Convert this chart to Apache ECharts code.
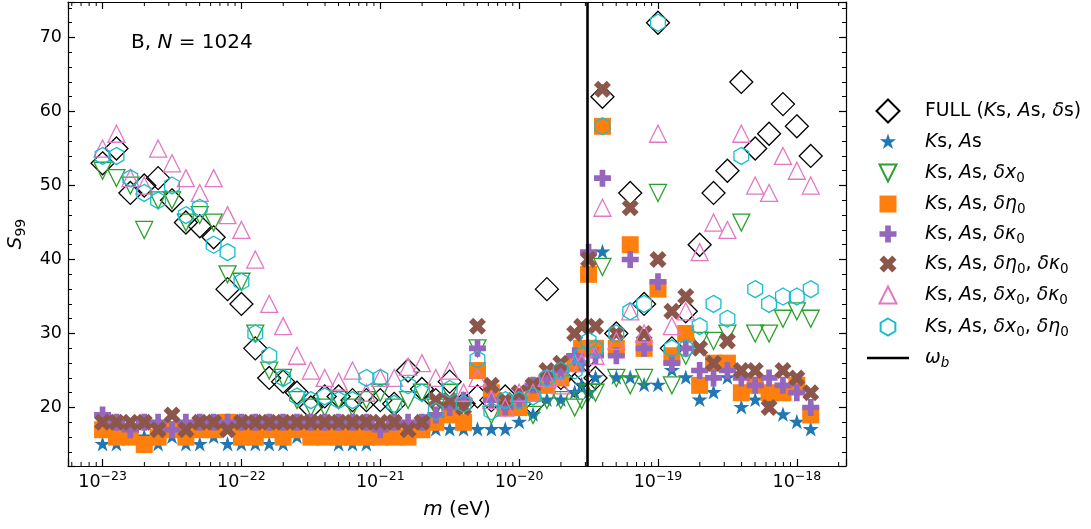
<!DOCTYPE html>
<html>
<head>
<meta charset="utf-8">
<script src="https://cdn.jsdelivr.net/npm/echarts@6/dist/echarts.min.js"></script>
<style>
html, body { margin: 0; padding: 0; background: #fff; }
#chart { width: 1091px; height: 529px; }
</style>
</head>
<body>
<div id="chart"></div>
<script>
// Sampled boson masses, log10(m / eV); finer sampling close to omega_b
const logMass = [
  -23.0, -22.9, -22.8, -22.7, -22.6, -22.5, -22.4, -22.3, -22.2, -22.1,
  -22.0, -21.9, -21.8, -21.7, -21.6, -21.5, -21.4, -21.3, -21.2, -21.1,
  -21.0, -20.9, -20.8, -20.7, -20.6, -20.5, -20.4, -20.3, -20.2, -20.1,
  -20.0, -19.9, -19.8, -19.7, -19.6, -19.55, -19.5, -19.45, -19.4, -19.3,
  -19.2, -19.1, -19.0, -18.9, -18.8, -18.7, -18.6, -18.5, -18.4, -18.3,
  -18.2, -18.1, -18.0, -17.9
];

// S99 for each set of free parameters
const s99Full = [
  53, 55, 49, 50, 51, 48, 45, 44.5, 43, 36,
  34, 28, 24, 23.5, 22, 20, 21.5, 21.5, 21, 21,
  21, 20.5, 25, 22.5, 21, 23.5, 20.5, 21.5, 21, 21.5,
  20.5, 20.5, 36, 24, 23, 24, 27, 24, 62, 30,
  49, 34, 72, 28, 33, 42, 49, 52, 64, 55,
  57, 61, 58, 54
];
const s99KsAs = [
  15, 15, 16, 16, 15, 16, 15, 15, 16, 15,
  15, 15, 15, 15, 16, 16, 16, 15, 15, 15,
  16, 16, 16, 17, 17, 17, 17, 17, 17, 17,
  18, 19, 21, 21, 22, 23, 22, 24, 41, 24,
  24, 23, 23, 25, 24, 21, 22, 24, 20, 21,
  21, 19, 18, 17
];
const s99X0 = [
  52, 51, 50, 44, 48, 48, 45, 46, 45, 38,
  37, 30, 25, 24, 21, 20, 20, 21, 20, 21,
  22, 20, 21, 22, 20, 22, 20, 28, 19, 20,
  20, 19, 21, 21, 20, 21, 22, 22, 39, 24,
  23, 24, 49, 23, 27, 29, 29, 30, 45, 30,
  30, 32, 33, 32
];
const s99Eta0 = [
  17, 16, 16, 15, 16, 17, 16, 17, 17, 18,
  16, 16, 17, 16, 17, 16, 16, 16, 16, 16,
  16, 16, 16, 17, 18, 19, 18, 25, 22, 20,
  20, 22, 23, 24, 26, 28, 38, 28, 58, 28,
  42, 28, 36, 27, 30, 23, 26, 26, 22, 23,
  22, 22, 23, 19
];
const s99Kappa0 = [
  19, 18, 17, 18, 18, 17, 18, 18, 18, 18,
  18, 18, 18, 18, 18, 18, 18, 18, 18, 18,
  17, 18, 18, 18, 19, 20, 21, 28, 21, 20,
  21, 23, 24, 25, 27, 26, 41, 27, 51, 27,
  40, 28, 37, 26, 28, 25, 24, 25, 24, 23,
  24, 23, 22, 20
];
const s99Eta0Kappa0 = [
  18, 18, 18, 18, 17, 19, 17, 18, 18, 17,
  18, 18, 18, 18, 18, 18, 18, 18, 18, 18,
  18, 18, 17, 18, 21, 21, 20, 31, 23, 21,
  22, 23, 25, 26, 30, 31, 40, 31, 63, 30,
  47, 30, 40, 33, 35, 28, 26, 29, 25, 25,
  20, 25, 24, 22
];
const s99X0Kappa0 = [
  55, 57, 51, 50, 55, 53, 51, 49, 51, 46,
  44, 40, 34, 31, 27, 25, 24, 23.5, 25, 22,
  24, 24, 25.5, 26, 24, 25, 22, 24, 21, 20,
  22, 22, 24, 23, 26, 26, 28, 27, 47, 29,
  33, 30, 57, 31, 33, 41, 45, 44, 57, 50,
  49, 54, 52, 50
];
const s99X0Eta0 = [
  54, 54, 51, 49, 48, 50, 46, 47, 42, 41,
  37, 30, 27, 24, 21.5, 21, 21.5, 21, 21, 24,
  24, 20.5, 23, 22, 19.5, 22.5, 20.5, 26.5, 19.5, 21,
  21, 21.5, 24, 25, 25, 27, 29, 28, 58, 30,
  33, 34, 72, 28, 28, 31, 34, 32, 54, 36,
  34, 35, 35, 36
];

// Binary orbital frequency, in eV
const omegaB = 3.09e-20;

// Axis ranges (x in log10 eV)
const logMassMin = -23.249, logMassMax = -17.646;
const s99Min = 12.1, s99Max = 74.8;

const FONT = "'DejaVu Sans', sans-serif";

// Marker outlines on a [-1, 1] square
const SHAPES = {
  diamond: [[0, -1], [1, 0], [0, 1], [-1, 0]],
  star: (function () {
    const p = [];
    for (let i = 0; i < 10; i++) {
      const r = i % 2 ? 0.381966 : 1;
      const a = -Math.PI / 2 + i * Math.PI / 5;
      p.push([r * Math.cos(a), r * Math.sin(a)]);
    }
    return p;
  })(),
  triDown: [[-1, -1], [1, -1], [0, 1]],
  triUp: [[0, -1], [1, 1], [-1, 1]],
  square: [[-1, -1], [1, -1], [1, 1], [-1, 1]],
  plus: [[-1/3, -1], [1/3, -1], [1/3, -1/3], [1, -1/3], [1, 1/3], [1/3, 1/3],
         [1/3, 1], [-1/3, 1], [-1/3, 1/3], [-1, 1/3], [-1, -1/3], [-1/3, -1/3]],
  cross: [[-0.5, -1], [0, -0.5], [0.5, -1], [1, -0.5], [0.5, 0], [1, 0.5],
          [0.5, 1], [0, 0.5], [-0.5, 1], [-1, 0.5], [-0.5, 0], [-1, -0.5]],
  hexagon: [[0, -1], [0.866, -0.5], [0.866, 0.5], [0, 1], [-0.866, 0.5], [-0.866, -0.5]]
};

// Path symbol inside a fixed 100x100 box, so every marker keeps its own proportion
function shapePath(pts, scale) {
  let d = 'path://M0,0M100,100';
  pts.forEach(function (p, i) {
    d += (i ? 'L' : 'M') + (50 + 50 * scale * p[0]).toFixed(2) + ',' + (50 + 50 * scale * p[1]).toFixed(2);
  });
  return d + 'Z';
}

function toPoints(values) {
  const pts = [];
  values.forEach(function (v, i) {
    if (v != null) pts.push([logMass[i], v]);
  });
  return pts;
}

const LEGEND_BOX = 24;    // legend icon box height

const seriesDefs = [
  { name: 'FULL', values: s99Full, shape: 'diamond', size: 23, open: true, color: '#000000' },
  { name: 'Ks, As', values: s99KsAs, shape: 'star', size: 17, open: false, color: '#1f77b4' },
  { name: 'Ks, As, dx0', values: s99X0, shape: 'triDown', size: 17, open: true, color: '#2ca02c' },
  { name: 'Ks, As, deta0', values: s99Eta0, shape: 'square', size: 17, open: false, color: '#ff7f0e' },
  { name: 'Ks, As, dkappa0', values: s99Kappa0, shape: 'plus', size: 17, open: false, color: '#9467bd' },
  { name: 'Ks, As, deta0, dkappa0', values: s99Eta0Kappa0, shape: 'cross', size: 17, open: false, color: '#8c564b' },
  { name: 'Ks, As, dx0, dkappa0', values: s99X0Kappa0, shape: 'triUp', size: 17, open: true, color: '#e377c2' },
  { name: 'Ks, As, dx0, deta0', values: s99X0Eta0, shape: 'hexagon', size: 17, open: true, color: '#17becf' }
];

const legendLabels = {
  'FULL': 'FULL ({i|K}s, {i|A}s, {i|δ}s)',
  'Ks, As': '{i|K}s, {i|A}s',
  'Ks, As, dx0': '{i|K}s, {i|A}s, {i|δx}{sub|0}',
  'Ks, As, deta0': '{i|K}s, {i|A}s, {i|δη}{sub|0}',
  'Ks, As, dkappa0': '{i|K}s, {i|A}s, {i|δκ}{sub|0}',
  'Ks, As, deta0, dkappa0': '{i|K}s, {i|A}s, {i|δη}{sub|0}, {i|δκ}{sub|0}',
  'Ks, As, dx0, dkappa0': '{i|K}s, {i|A}s, {i|δx}{sub|0}, {i|δκ}{sub|0}',
  'Ks, As, dx0, deta0': '{i|K}s, {i|A}s, {i|δx}{sub|0}, {i|δη}{sub|0}',
  'omega_b': '{i|ω}{isub|b}'
};

const series = [];
const legendData = [];

seriesDefs.forEach(function (d) {
  series.push({
    type: 'scatter',
    name: d.name,
    data: toPoints(d.values),
    symbol: shapePath(SHAPES[d.shape], 1),
    symbolSize: d.size,
    symbolKeepAspect: true,
    itemStyle: d.open
      ? { color: 'rgba(255,255,255,0)', borderColor: d.color, borderWidth: 1.3, opacity: 1 }
      : { color: d.color, borderWidth: 0, opacity: 1 },
    emphasis: { disabled: true },
    silent: true
  });
  legendData.push({ name: d.name, icon: shapePath(SHAPES[d.shape], d.size / LEGEND_BOX) });
});

// Vertical marker at omega_b
series.push({
  type: 'line',
  name: 'omega_b',
  data: [],
  symbol: 'none',
  lineStyle: { color: '#000', width: 2.6 },
  itemStyle: { color: '#000' },
  markLine: {
    silent: true,
    symbol: 'none',
    label: { show: false },
    lineStyle: { color: '#000', width: 2.6, type: 'solid' },
    data: [{ xAxis: Math.log10(omegaB) }]
  }
});
legendData.push({ name: 'omega_b', icon: 'path://M0,0L42,0L42,2.6L0,2.6Z' });

// Logarithmic minor ticks (2..9 per decade) on bottom and top edges
const minorTicks = [];
for (let e = -24; e <= -18; e++) {
  for (let k = 2; k <= 9; k++) {
    const v = e + Math.log10(k);
    if (v > logMassMin && v < logMassMax) minorTicks.push([v, s99Min]);
  }
}
series.push({
  type: 'custom',
  name: 'minor ticks',
  data: minorTicks,
  silent: true,
  clip: false,
  z: 5,
  renderItem: function (params, api) {
    const x = api.coord([api.value(0), api.value(1)])[0];
    const cs = params.coordSys;
    const top = cs.y, bottom = cs.y + cs.height;
    const st = { stroke: '#000', lineWidth: 1 };
    return {
      type: 'group',
      children: [
        { type: 'line', shape: { x1: x, y1: bottom, x2: x, y2: bottom - 4 }, style: st },
        { type: 'line', shape: { x1: x, y1: top, x2: x, y2: top + 4 }, style: st }
      ]
    };
  }
});

const axisLineStyle = { color: '#000', width: 1.2 };
const majorTick = { show: true, inside: true, length: 7, lineStyle: { color: '#000', width: 1.2 } };

function decadeLabel(v) {
  const r = Math.round(v);
  if (Math.abs(v - r) > 1e-6) return '';
  return '{b|10}{e|' + (r < 0 ? '\u2212' : '') + Math.abs(r) + '}';
}

const option = {
  backgroundColor: '#fff',
  animation: false,
  grid: { left: 68, right: 245, top: 2, bottom: 63, containLabel: false, outerBoundsMode: 'none' },
  title: {
    text: 'B, {i|N} = 1024',
    left: 131,
    top: 31,
    padding: 0,
    textStyle: {
      fontFamily: FONT, fontSize: 20, fontWeight: 'normal', color: '#000', lineHeight: 24,
      rich: { i: { fontFamily: FONT, fontSize: 20, fontStyle: 'italic', color: '#000', lineHeight: 24 } }
    }
  },
  legend: {
    orient: 'vertical',
    left: 867,
    top: 98,
    padding: 0,
    itemWidth: 42,
    itemHeight: LEGEND_BOX,
    itemGap: 6,
    selectedMode: false,
    data: legendData,
    formatter: function (name) { return legendLabels[name]; },
    textStyle: {
      fontFamily: FONT, fontSize: 18.8, color: '#000', lineHeight: 24, padding: [0, 0, 0, 11],
      rich: {
        i: { fontFamily: FONT, fontSize: 18.8, fontStyle: 'italic', color: '#000', lineHeight: 24 },
        sub: { fontFamily: FONT, fontSize: 13.5, color: '#000', lineHeight: 13, verticalAlign: 'bottom' },
        isub: { fontFamily: FONT, fontSize: 13.5, fontStyle: 'italic', color: '#000', lineHeight: 13, verticalAlign: 'bottom' }
      }
    }
  },
  xAxis: [
    {
      type: 'value',
      min: logMassMin,
      max: logMassMax,
      splitNumber: 5,
      position: 'bottom',
      axisLine: { show: true, lineStyle: axisLineStyle },
      axisTick: majorTick,
      splitLine: { show: false },
      axisLabel: {
        margin: 4,
        color: '#000',
        formatter: decadeLabel,
        rich: {
          b: { fontFamily: FONT, fontSize: 17.5, color: '#000', lineHeight: 24 },
          e: { fontFamily: FONT, fontSize: 12.5, color: '#000', lineHeight: 13, verticalAlign: 'top' }
        }
      },
      name: '{i|m} (eV)',
      nameLocation: 'middle',
      nameGap: 32,
      nameTextStyle: {
        fontFamily: FONT, fontSize: 20, color: '#000', lineHeight: 24,
        rich: { i: { fontFamily: FONT, fontSize: 20, fontStyle: 'italic', color: '#000', lineHeight: 24 } }
      }
    },
    {
      type: 'value',
      min: logMassMin,
      max: logMassMax,
      splitNumber: 5,
      position: 'top',
      axisLine: { show: true, lineStyle: axisLineStyle },
      axisTick: majorTick,
      axisLabel: { show: false },
      splitLine: { show: false }
    }
  ],
  yAxis: [
    {
      type: 'value',
      min: s99Min,
      max: s99Max,
      splitNumber: 6,
      position: 'left',
      axisLine: { show: true, lineStyle: axisLineStyle },
      axisTick: majorTick,
      minorTick: { show: true, splitNumber: 5, length: 4, lineStyle: { color: '#000', width: 1 } },
      splitLine: { show: false },
      axisLabel: {
        margin: 6,
        color: '#000',
        fontFamily: FONT,
        fontSize: 17.5,
        formatter: function (v) { return Math.abs(v / 10 - Math.round(v / 10)) < 1e-6 ? String(Math.round(v)) : ''; }
      },
      name: '{i|S}{sub|99}',
      nameLocation: 'middle',
      nameRotate: 90,
      nameGap: 31,
      nameTextStyle: {
        fontFamily: FONT, fontSize: 20, color: '#000', lineHeight: 26,
        rich: {
          i: { fontFamily: FONT, fontSize: 20, fontStyle: 'italic', color: '#000', lineHeight: 26 },
          sub: { fontFamily: FONT, fontSize: 14, color: '#000', lineHeight: 14, verticalAlign: 'bottom' }
        }
      }
    },
    {
      type: 'value',
      min: s99Min,
      max: s99Max,
      splitNumber: 6,
      position: 'right',
      axisLine: { show: true, lineStyle: axisLineStyle },
      axisTick: majorTick,
      minorTick: { show: true, splitNumber: 5, length: 4, lineStyle: { color: '#000', width: 1 } },
      splitLine: { show: false },
      axisLabel: { show: false }
    }
  ],
  series: series
};

const chart = echarts.init(document.getElementById('chart'), null, { renderer: 'canvas' });
chart.setOption(option);
</script>
</body>
</html>
